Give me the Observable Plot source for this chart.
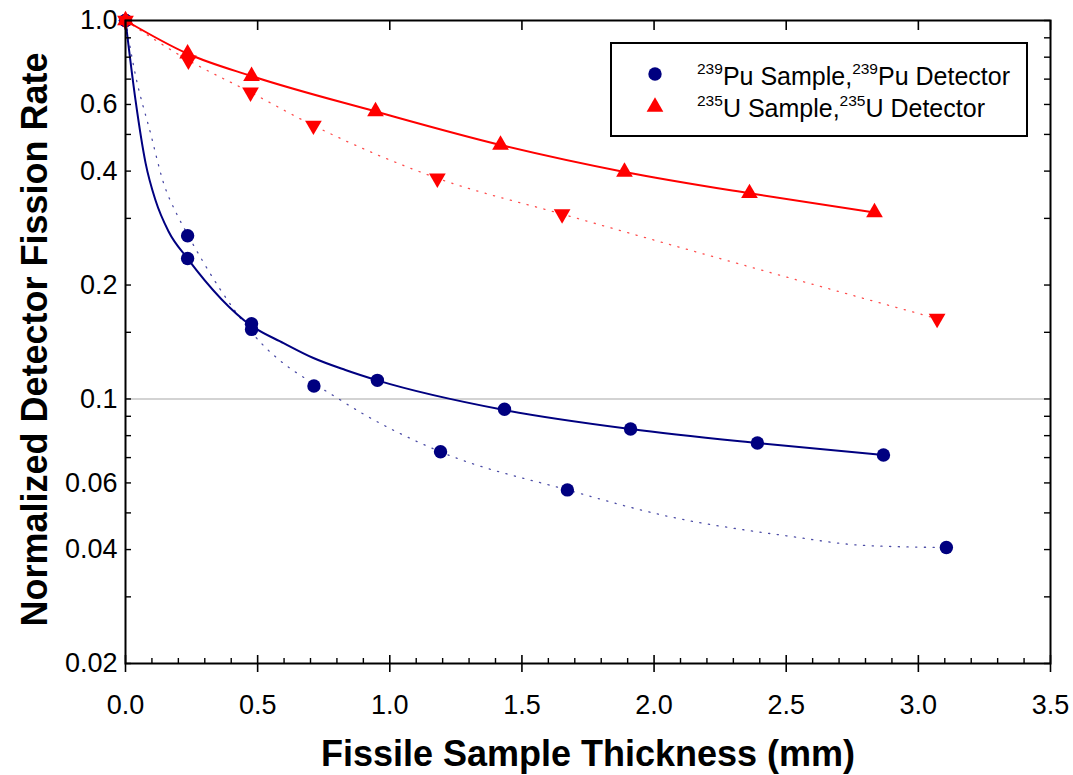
<!DOCTYPE html>
<html>
<head>
<meta charset="utf-8">
<script src="https://cdn.jsdelivr.net/npm/d3@7"></script>
<script src="https://cdn.jsdelivr.net/npm/@observablehq/plot@0.6"></script>
<style>
  body { margin: 0; background: #fff; }
  #wrap { position: relative; width: 1073px; height: 775px; font-family: "Liberation Sans", Arial, sans-serif; background: #fff; }
  #legend { position: absolute; left: 610px; top: 42px; width: 414px; height: 91px; border: 2px solid #000; background: #fff; }
  #legend .row { position: absolute; left: 85px; font-size: 25px; line-height: 25px; white-space: nowrap; color: #000; }
  #legend .row sup { font-size: 15.5px; line-height: 0; vertical-align: 11px; }
  #legend svg { position: absolute; }
</style>
</head>
<body>
<div id="wrap"></div>
<script>
// ---- Data ----
// 239Pu sample / 239Pu detector, measured points (solid-line set)
const puSolidX = [0, 0.235, 0.477, 0.953, 1.434, 1.911, 2.391, 2.868];
const puSolidY = [1.0, 0.235, 0.158, 0.112, 0.0939, 0.0833, 0.0765, 0.0711];
// 239Pu, measured points (dotted-line set)
const puDotX = [0, 0.235, 0.477, 0.713, 1.192, 1.672, 3.106];
const puDotY = [1.0, 0.270, 0.1527, 0.1082, 0.0725, 0.0575, 0.0405];
// 235U sample / 235U detector (up triangles, solid line)
const uSolidX = [0, 0.235, 0.477, 0.946, 1.419, 1.888, 2.361, 2.834];
const uSolidY = [1.0, 0.817, 0.713, 0.575, 0.469, 0.398, 0.3495, 0.311];
// 235U (down triangles, dotted line)
const uDotX = [0, 0.238, 0.473, 0.711, 1.18, 1.652, 3.071];
const uDotY = [1.0, 0.785, 0.646, 0.528, 0.383, 0.308, 0.163];

// Fitted curves (Pu curves, which bend sharply near 0)
const puSolidFitX = [0, 0.038, 0.076, 0.1135, 0.163, 0.235, 0.477, 0.598, 0.711, 0.832, 0.953, 1.434, 1.911, 2.391, 2.868];
const puSolidFitY = [1.0, 0.615, 0.420, 0.335, 0.277, 0.235, 0.156, 0.1405, 0.1283, 0.1193, 0.112, 0.0935, 0.0833, 0.0765, 0.0711];
const puDotFitX = [0, 0.034, 0.095, 0.144, 0.196, 0.235, 0.477, 0.813, 1.192, 1.672, 2.05, 2.5, 2.8, 3.106];
const puDotFitY = [1.0, 0.738, 0.503, 0.372, 0.306, 0.272, 0.150, 0.0994, 0.0725, 0.0575, 0.049, 0.0435, 0.041, 0.0405];

// Axis ticks and labels
const xMajor = [0, 0.5, 1.0, 1.5, 2.0, 2.5, 3.0, 3.5];
const xMinor = [0.1, 0.2, 0.3, 0.4, 0.6, 0.7, 0.8, 0.9, 1.1, 1.2, 1.3, 1.4, 1.6, 1.7, 1.8, 1.9, 2.1, 2.2, 2.3, 2.4, 2.6, 2.7, 2.8, 2.9, 3.1, 3.2, 3.3, 3.4];
const yMajor = [1.0, 0.6, 0.4, 0.2, 0.1, 0.06, 0.04, 0.02];
const yMajorLabels = ["1.0", "0.6", "0.4", "0.2", "0.1", "0.06", "0.04", "0.02"];
const yMinor = [0.9, 0.8, 0.7, 0.5, 0.3, 0.15, 0.09, 0.08, 0.07, 0.05, 0.03];
const refLine = [0.1];

const xTitle = "Fissile Sample Thickness (mm)";
const yTitle = "Normalized Detector Fission Rate";

const navy = "#000080";
const red = "#ff0000";

const pts = (xs, ys) => xs.map((x, i) => ({x, y: ys[i]}));
const puSolid = pts(puSolidX, puSolidY);
const puDot = pts(puDotX, puDotY);
const uSolid = pts(uSolidX, uSolidY);
const uDot = pts(uDotX, uDotY);
const puSolidFit = pts(puSolidFitX, puSolidFitY);
const puDotFit = pts(puDotFitX, puDotFitY);

const yLabelMap = new Map(yMajor.map((v, i) => [v, yMajorLabels[i]]));
const yAll = yMajor.concat(yMinor);

const W = 1073, H = 775, mL = 125, mR = 23, mT = 20, mB = 112;
const plotW = W - mL - mR, plotH = H - mT - mB;

const chart = Plot.plot({
  width: W, height: H,
  marginLeft: mL, marginRight: mR, marginTop: mT, marginBottom: mB,
  x: {domain: [0, 3.5]},
  y: {type: "log", domain: [0.02, 1.0]},
  style: {fontFamily: '"Liberation Sans", Arial, sans-serif', background: "white", color: "black"},
  marks: [
    Plot.ruleY(refLine, {y: d => d, stroke: "#c4c4c4", strokeWidth: 1.5}),
    // dotted fit lines
    Plot.line(puDotFit, {x: "x", y: "y", curve: "monotone-x", stroke: navy, strokeWidth: 1.3, strokeDasharray: "1.2,7.5", strokeOpacity: 0.7}),
    Plot.line(uDot, {x: "x", y: "y", curve: "monotone-x", stroke: red, strokeWidth: 1.3, strokeDasharray: "1.2,7.5", strokeOpacity: 0.7}),
    // solid fit lines
    Plot.line(puSolidFit, {x: "x", y: "y", curve: "monotone-x", stroke: navy, strokeWidth: 2}),
    Plot.line(uSolid, {x: "x", y: "y", curve: "monotone-x", stroke: red, strokeWidth: 2}),
    // markers
    Plot.dot(puDot, {x: "x", y: "y", symbol: "circle", r: 6.7, fill: navy}),
    Plot.dot(puSolid, {x: "x", y: "y", symbol: "circle", r: 6.7, fill: navy}),
    Plot.dot(uDot, {x: "x", y: "y", symbol: "triangle", r: 6.2, fill: red, rotate: 180}),
    Plot.dot(uSolid, {x: "x", y: "y", symbol: "triangle", r: 6.2, fill: red}),
    // frame
    Plot.frame({stroke: "black", strokeWidth: 2}),
    // ticks
    Plot.tickX(xMajor, {x: d => d, insetTop: plotH - 8, insetBottom: -9, stroke: "black", strokeWidth: 1.6}),
    Plot.tickX(xMinor, {x: d => d, insetTop: plotH - 5, stroke: "black", strokeWidth: 1.4}),
    Plot.tickX(xMajor, {x: d => d, insetBottom: plotH - 10, stroke: "black", strokeWidth: 1.6}),
    Plot.tickY(yAll, {y: d => d, insetRight: plotW - 6, stroke: "black", strokeWidth: 1.4}),
    Plot.tickY(yAll, {y: d => d, insetLeft: plotW - 6, stroke: "black", strokeWidth: 1.4}),
    // tick labels
    Plot.axisX(xMajor, {anchor: "bottom", tickSize: 0, tickPadding: 31, fontSize: 27, tickFormat: d3.format(".1f"), label: null}),
    Plot.axisY(yMajor, {anchor: "left", tickSize: 0, tickPadding: 8, fontSize: 27, tickFormat: d => yLabelMap.get(d), label: null}),
    // axis titles
    Plot.text([xTitle], {text: d => d, frameAnchor: "bottom", textAnchor: "middle", lineAnchor: "middle", dy: 91, fontSize: 36, fontWeight: "bold", fill: "black"}),
    Plot.text([yTitle], {text: d => d, frameAnchor: "left", textAnchor: "middle", lineAnchor: "middle", rotate: -90, dx: -90, dy: -2.5, fontSize: 36, fontWeight: "bold", fill: "black"})
  ]
});

const wrap = document.getElementById("wrap");
wrap.appendChild(chart);

// Legend (HTML, real text)
const legend = document.createElement("div");
legend.id = "legend";
const circlePath = d3.symbol(d3.symbolCircle, Math.PI * 6.7 * 6.7)();
const triPath = d3.symbol(d3.symbolTriangle, Math.PI * 6.2 * 6.2)();
legend.innerHTML = `
  <svg width="24" height="24" style="left:31px;top:17.5px"><path d="${circlePath}" transform="translate(12,12)" fill="${navy}"/></svg>
  <div class="row" style="top:20.3px"><sup>239</sup>Pu Sample,<sup>239</sup>Pu Detector</div>
  <svg width="24" height="24" style="left:31px;top:51px"><path d="${triPath}" transform="translate(12,12)" fill="${red}"/></svg>
  <div class="row" style="top:52.3px"><sup>235</sup>U Sample,<sup>235</sup>U Detector</div>
`;
wrap.appendChild(legend);
</script>
</body>
</html>
